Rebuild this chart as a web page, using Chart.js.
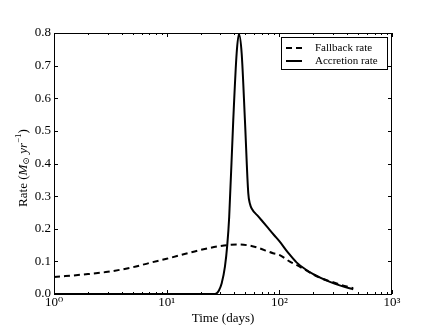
<!DOCTYPE html>
<html>
<head>
<meta charset="utf-8">
<script src="https://cdn.jsdelivr.net/npm/chart.js@4.4.1/dist/chart.umd.min.js"></script>
<style>
  html, body { margin: 0; padding: 0; background: #fff; }
  canvas { display: block; }
</style>
</head>
<body>
<canvas id="chart" width="436" height="327"></canvas>
<script>
// values (time in days, rate in Msun/yr)
const fallbackDays = [1, 2, 3, 5, 7, 10, 15, 20, 30, 43, 60, 88, 100, 124, 142, 229, 300, 396, 453];
const fallbackRate = [0.052, 0.061, 0.068, 0.082, 0.095, 0.108, 0.124, 0.135, 0.147, 0.152, 0.145, 0.125, 0.12, 0.099, 0.089, 0.05, 0.036, 0.023, 0.018];

const accretionDays = [1, 10, 26.8, 27.8, 29, 30.8, 32.9, 34.5, 35.9, 39, 41.8, 43.8, 46.3, 49.5, 53, 55, 56.8, 65, 77, 90, 100, 120, 142, 170, 200, 281, 360, 453];
const accretionRate = [0, 0, 0, 0.002, 0.01, 0.033, 0.084, 0.15, 0.237, 0.533, 0.738, 0.797, 0.738, 0.533, 0.309, 0.275, 0.262, 0.238, 0.208, 0.18, 0.162, 0.126, 0.097, 0.076, 0.061, 0.037, 0.024, 0.0144];

const xTickValues = [1, 10, 100, 1000];
const xTickLabels = ["10\u2070", "10\u00b9", "10\u00b2", "10\u00b3"];
const yTickValues = [0, 0.1, 0.2, 0.3, 0.4, 0.5, 0.6, 0.7, 0.8];

const FONT = '"Liberation Serif", "DejaVu Serif", serif';

const toPoints = (xs, ys) => xs.map((x, i) => ({ x, y: ys[i] }));

// frame with inward ticks on all four sides (matplotlib look)
const frameTicks = {
  id: "frameTicks",
  afterDatasetsDraw(chart) {
    const { ctx, chartArea: a, scales } = chart;
    ctx.save();
    ctx.strokeStyle = "#000";
    ctx.lineWidth = 1;
    ctx.strokeRect(a.left + 0.5, a.top + 0.5, a.right - a.left - 1, a.bottom - a.top);

    ctx.beginPath();
    xTickValues.forEach((v, i) => {
      const px = Math.round(scales.x.getPixelForValue(v)) + 0.5;
      ctx.moveTo(px, a.bottom); ctx.lineTo(px, a.bottom - 4);
      ctx.moveTo(px, a.top); ctx.lineTo(px, a.top + 4);
      if (i < xTickValues.length - 1) {
        for (let m = 2; m <= 9; m++) {
          const mx = Math.round(scales.x.getPixelForValue(v * m)) + 0.5;
          ctx.moveTo(mx, a.bottom); ctx.lineTo(mx, a.bottom - 2);
          ctx.moveTo(mx, a.top); ctx.lineTo(mx, a.top + 2);
        }
      }
    });
    yTickValues.forEach(v => {
      const py = Math.round(scales.y.getPixelForValue(v)) + 0.5;
      ctx.moveTo(a.left, py); ctx.lineTo(a.left + 4, py);
      ctx.moveTo(a.right, py); ctx.lineTo(a.right - 4, py);
    });
    ctx.stroke();
    ctx.restore();
  }
};

// y title with italic symbols, subscript and superscript
const yTitle = {
  id: "yTitle",
  afterDraw(chart) {
    const { ctx } = chart;
    const parts = [
      { t: "Rate (", f: `13px ${FONT}`, dy: 0 },
      { t: "M", f: `italic 13px ${FONT}`, dy: 0 },
      { t: "\u2299", f: `9px ${FONT}`, dy: 3 },
      { t: " ", f: `13px ${FONT}`, dy: 0 },
      { t: "yr", f: `italic 13px ${FONT}`, dy: 0 },
      { t: "\u22121", f: `9px ${FONT}`, dy: -5 },
      { t: ")", f: `13px ${FONT}`, dy: 0 },
    ];
    ctx.save();
    let total = 0;
    parts.forEach(p => { ctx.font = p.f; p.w = ctx.measureText(p.t).width; total += p.w; });
    ctx.translate(24, 168);
    ctx.rotate(-Math.PI / 2);
    ctx.fillStyle = "#000";
    ctx.textBaseline = "middle";
    let x = -total / 2;
    parts.forEach(p => {
      ctx.font = p.f;
      ctx.fillText(p.t, x, p.dy);
      x += p.w;
    });
    ctx.restore();
  }
};

// boxed legend in the upper right corner
const boxLegend = {
  id: "boxLegend",
  afterDraw(chart) {
    const { ctx } = chart;
    const x0 = 281, y0 = 37, w = 106, h = 32;
    ctx.save();
    ctx.fillStyle = "#fff";
    ctx.fillRect(x0, y0, w, h);
    ctx.strokeStyle = "#000";
    ctx.lineWidth = 1;
    ctx.strokeRect(x0 + 0.5, y0 + 0.5, w, h);
    ctx.font = `11px ${FONT}`;
    ctx.textBaseline = "middle";
    chart.data.datasets.forEach((ds, i) => {
      const y = y0 + 11 + i * 13;
      ctx.beginPath();
      ctx.setLineDash(ds.borderDash || []);
      ctx.lineWidth = ds.borderWidth;
      ctx.moveTo(x0 + 5, y);
      ctx.lineTo(x0 + 21, y);
      ctx.stroke();
      ctx.setLineDash([]);
      ctx.fillStyle = "#000";
      ctx.fillText(ds.label, x0 + 34, y);
    });
    ctx.restore();
  }
};

new Chart(document.getElementById("chart"), {
  type: "line",
  data: {
    datasets: [
      {
        label: "Fallback rate",
        data: toPoints(fallbackDays, fallbackRate),
        borderColor: "#000",
        borderWidth: 2,
        borderDash: [6, 4],
        pointRadius: 0,
        cubicInterpolationMode: "monotone",
      },
      {
        label: "Accretion rate",
        data: toPoints(accretionDays, accretionRate),
        borderColor: "#000",
        borderWidth: 2,
        pointRadius: 0,
        cubicInterpolationMode: "monotone",
      },
    ],
  },
  options: {
    responsive: false,
    animation: false,
    devicePixelRatio: 1,
    layout: { padding: { left: 0, top: 33, right: 44, bottom: 0 } },
    plugins: {
      legend: { display: false },
      tooltip: { enabled: false },
    },
    scales: {
      x: {
        type: "logarithmic",
        min: 1,
        max: 1000,
        afterBuildTicks: s => { s.ticks = xTickValues.map(v => ({ value: v })); },
        afterFit: s => { s.height = 33; },
        ticks: {
          callback: (v) => xTickLabels[xTickValues.indexOf(v)],
          font: { family: FONT, size: 13 },
          color: "#000",
          padding: 1,
          maxRotation: 0,
          autoSkip: false,
        },
        grid: { display: false, drawTicks: false },
        border: { display: false },
        title: {
          display: true,
          text: "Time (days)",
          font: { family: FONT, size: 13 },
          color: "#000",
          padding: { top: 0, bottom: 1 },
        },
      },
      y: {
        min: 0,
        max: 0.8,
        afterBuildTicks: s => { s.ticks = yTickValues.map(v => ({ value: v })); },
        afterFit: s => { s.width = 54; },
        ticks: {
          callback: v => v.toFixed(1),
          font: { family: FONT, size: 13 },
          color: "#000",
          padding: 3,
        },
        grid: { display: false, drawTicks: false },
        border: { display: false },
      },
    },
  },
  plugins: [frameTicks, yTitle, boxLegend],
});
</script>
</body>
</html>
